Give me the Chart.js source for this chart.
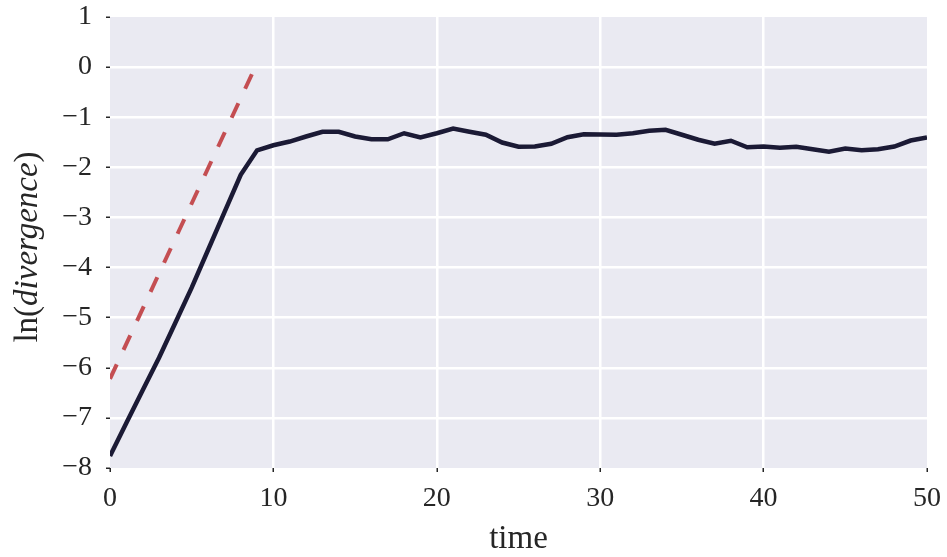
<!DOCTYPE html>
<html>
<head>
<meta charset="utf-8">
<script src="https://cdn.jsdelivr.net/npm/chart.js@4/dist/chart.umd.min.js"></script>
<style>
  html, body { margin: 0; padding: 0; background: #fff; }
  #wrap { width: 947px; height: 557px; }
</style>
</head>
<body>
<div id="wrap"><canvas id="chart" width="947" height="557"></canvas></div>
<script>
// sampled divergence (log scale) vs time
const times = [0, 1, 2, 3, 4, 5, 6, 7, 8, 9, 10, 11, 12, 13, 14, 15, 16, 17, 18, 19, 20,
  21, 22, 23, 24, 25, 26, 27, 28, 29, 30, 31, 32, 33, 34, 35, 36, 37, 38, 39, 40,
  41, 42, 43, 44, 45, 46, 47, 48, 49, 50];
const logDivergence = [-7.76, -7.1, -6.45, -5.8, -5.1, -4.4, -3.65, -2.9, -2.15, -1.66, -1.56,
  -1.485, -1.385, -1.29, -1.29, -1.385, -1.44, -1.44, -1.32, -1.405, -1.32,
  -1.227, -1.29, -1.35, -1.505, -1.59, -1.585, -1.53, -1.40, -1.34, -1.345,
  -1.35, -1.32, -1.27, -1.25, -1.35, -1.45, -1.53, -1.47, -1.60, -1.585,
  -1.61, -1.59, -1.64, -1.69, -1.625, -1.66, -1.64, -1.585, -1.465, -1.405];

// fitted exponential growth (dashed)
const fitTimes = [0, 8.8];
const fitValues = [-6.22, -0.06];

const xTicks = [0, 10, 20, 30, 40, 50];
const yTicks = [1, 0, -1, -2, -3, -4, -5, -6, -7, -8];

const SERIF = "'Liberation Serif', 'DejaVu Serif', serif";

const toPoints = (xs, ys) => xs.map((x, i) => ({ x, y: ys[i] }));

// hide the white grid line on the frame edges, keep the tick marks
const edgeless = (min, max) => ctx =>
  (ctx.tick && (ctx.tick.value === min || ctx.tick.value === max)) ? "rgba(0,0,0,0)" : "#ffffff";

const plotBg = {
  id: "plotBg",
  beforeDraw(chart) {
    const { ctx, chartArea: a } = chart;
    ctx.save();
    ctx.fillStyle = "#EAEAF2";
    ctx.fillRect(a.left, a.top, a.right - a.left, a.bottom - a.top);
    ctx.restore();
  }
};

// axis titles: "time" and ln(divergence) with the italic part
const axisTitles = {
  id: "axisTitles",
  afterDraw(chart) {
    const { ctx, chartArea: a } = chart;
    ctx.save();
    ctx.fillStyle = "#262626";
    ctx.textBaseline = "alphabetic";

    ctx.font = "33px " + SERIF;
    ctx.textAlign = "center";
    ctx.fillText("time", (a.left + a.right) / 2, 548);

    const parts = [
      { t: "ln(", f: "33px " + SERIF },
      { t: "divergence", f: "italic 33px " + SERIF },
      { t: ")", f: "33px " + SERIF }
    ];
    ctx.translate(37, 247);
    ctx.rotate(-Math.PI / 2);
    ctx.textAlign = "left";
    let total = 0;
    parts.forEach(p => { ctx.font = p.f; p.w = ctx.measureText(p.t).width; total += p.w; });
    let x = -total / 2;
    parts.forEach(p => { ctx.font = p.f; ctx.fillText(p.t, x, 0); x += p.w; });
    ctx.restore();
  }
};

new Chart(document.getElementById("chart"), {
  type: "line",
  data: {
    datasets: [
      {
        data: toPoints(fitTimes, fitValues),
        borderColor: "#C44E52",
        borderWidth: 4,
        borderDash: [16, 16],
        borderCapStyle: "butt",
        pointRadius: 0,
        tension: 0
      },
      {
        data: toPoints(times, logDivergence),
        borderColor: "#1B1A35",
        borderWidth: 4.5,
        pointRadius: 0,
        tension: 0
      }
    ]
  },
  options: {
    responsive: false,
    animation: false,
    layout: { padding: { left: 0, right: 20, top: 17, bottom: 0 } },
    plugins: { legend: { display: false }, tooltip: { enabled: false } },
    scales: {
      x: {
        type: "linear",
        min: 0,
        max: 50,
        afterBuildTicks: s => { s.ticks = xTicks.map(v => ({ value: v })); },
        afterFit: s => { s.height = 89; s.paddingLeft = 0; s.paddingRight = 0; },
        border: { display: false },
        grid: { color: edgeless(0, 50), lineWidth: 2.5, tickColor: "#262626", tickLength: 4, tickWidth: 1.5 },
        ticks: {
          color: "#262626",
          padding: 10,
          font: { family: SERIF, size: 28 },
          callback: v => String(v)
        }
      },
      y: {
        min: -8,
        max: 1,
        afterBuildTicks: s => { s.ticks = yTicks.map(v => ({ value: v })); },
        afterFit: s => { s.width = 110; s.paddingTop = 0; s.paddingBottom = 0; },
        border: { display: false },
        grid: { color: edgeless(-8, 1), lineWidth: 2.5, tickColor: "#262626", tickLength: 4, tickWidth: 1.5 },
        ticks: {
          color: "#262626",
          padding: 14,
          font: { family: SERIF, size: 28 },
          callback: v => (v < 0 ? "\u2212" + Math.abs(v) : String(v))
        }
      }
    }
  },
  plugins: [plotBg, axisTitles]
});
</script>
</body>
</html>
